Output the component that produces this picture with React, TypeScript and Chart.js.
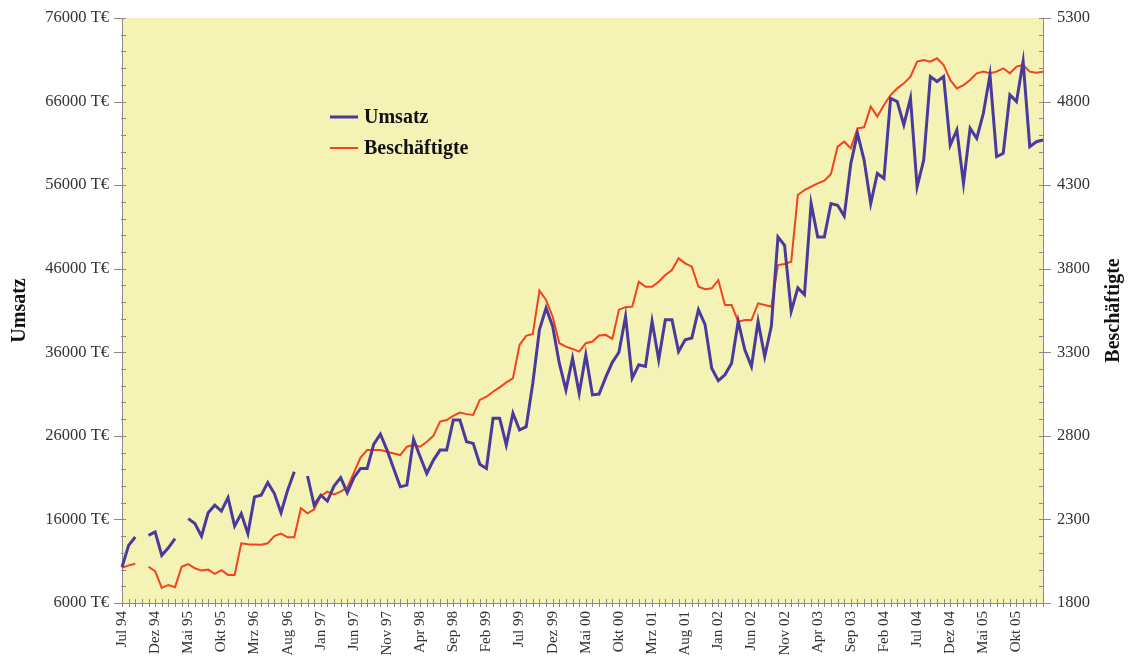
import React, { useEffect, useRef } from 'react';
import { Chart, registerables } from 'chart.js';

Chart.register(...registerables);

// ---------- data ----------
const MONTH_NAMES = ['Jan', 'Feb', 'Mrz', 'Apr', 'Mai', 'Jun', 'Jul', 'Aug', 'Sep', 'Okt', 'Nov', 'Dez'];
const FIRST_YEAR = 1994;
const FIRST_MONTH = 6; // Jul
const N_MONTHS = 140;
const LABEL_EVERY = 5;

const categories: string[] = Array.from({ length: N_MONTHS }, (_, i) => {
  const m = (FIRST_MONTH + i) % 12;
  const y = FIRST_YEAR + Math.floor((FIRST_MONTH + i) / 12);
  return `${MONTH_NAMES[m]} ${String(y % 100).padStart(2, '0')}`;
});

const umsatz: (number | null)[] = [
  10300, 12900, 13900, null, 14100, 14500, 11700, 12600, 13700, null,
  16100, 15500, 14000, 16800, 17700, 17000, 18600, 15200, 16700, 14300,
  18700, 18900, 20400, 19100, 16800, 19500, 21700, null, 21200, 17700,
  18900, 18200, 20000, 21000, 19200, 21000, 22100, 22100, 25000, 26200,
  24300, 22100, 19900, 20100, 25600, 23500, 21500, 23100, 24300, 24300,
  27900, 27900, 25300, 25100, 22600, 22100, 28100, 28100, 24900, 28700,
  26700, 27100, 32300, 38700, 41300, 39100, 34700, 31500, 35300, 31100,
  35700, 30900, 31000, 33000, 34800, 36000, 40300, 32900, 34500, 34300,
  39700, 35100, 39900, 39900, 36100, 37500, 37700, 41100, 39300, 34100,
  32600, 33300, 34700, 39700, 36300, 34300, 39700, 35500, 39100, 49800,
  48800, 40900, 43700, 42900, 53800, 49800, 49800, 53800, 53600, 52300,
  58600, 62200, 59000, 53800, 57400, 56800, 66400, 66000, 63200, 66400,
  55800, 59000, 69000, 68400, 69000, 60800, 62600, 56200, 62800, 61600,
  64600, 69200, 59400, 59800, 66800, 66000, 70800, 60600, 61200, 61400,
];

const beschaeftigte: (number | null)[] = [
  2010, 2025, 2035, null, 2017, 1990, 1890, 1908, 1895, 2017,
  2033, 2008, 1994, 2000, 1975, 1997, 1968, 1968, 2157, 2152,
  2150, 2148, 2157, 2200, 2215, 2193, 2193, 2367, 2337, 2360,
  2440, 2466, 2450, 2466, 2490, 2580, 2670, 2715, 2715, 2715,
  2705, 2695, 2685, 2735, 2745, 2735, 2765, 2800, 2885, 2895,
  2920, 2939, 2930, 2925, 3015, 3034, 3064, 3090, 3120, 3144,
  3344, 3398, 3410, 3669, 3613, 3513, 3354, 3334, 3320, 3304,
  3354, 3364, 3400, 3404, 3380, 3555, 3570, 3573, 3722, 3692,
  3692, 3722, 3762, 3792, 3862, 3832, 3812, 3692, 3677, 3683,
  3732, 3583, 3583, 3483, 3493, 3493, 3593, 3583, 3573, 3822,
  3828, 3842, 4241, 4271, 4291, 4311, 4327, 4367, 4530, 4560,
  4520, 4640, 4646, 4770, 4710, 4780, 4839, 4879, 4909, 4949,
  5039, 5049, 5039, 5059, 5019, 4929, 4879, 4899, 4929, 4969,
  4979, 4969, 4979, 4999, 4969, 5009, 5019, 4979, 4973, 4979,
];

const LEFT_MIN = 6000;
const LEFT_MAX = 76000;
const LEFT_STEP = 10000;
const LEFT_MINOR = 2000;
const RIGHT_MIN = 1800;
const RIGHT_MAX = 5300;
const RIGHT_STEP = 500;
const RIGHT_MINOR = 100;

const LEFT_TITLE = 'Umsatz';
const RIGHT_TITLE = 'Beschäftigte';
const SERIES_LABELS = ['Umsatz', 'Beschäftigte'];

// ---------- styles ----------
const W = 1137;
const H = 667;
const FONT = "'Liberation Serif', 'Times New Roman', serif";
const PLOT_BG = '#F5F2B6';
const AXIS = '#8a8a8a';
const BLUE = '#4A3A9E';
const RED = '#F2431E';
const TEXT = '#333333';

const decorPlugin = {
  id: 'decor',
  beforeDraw(chart: any) {
    const { ctx, chartArea: a } = chart;
    ctx.save();
    ctx.fillStyle = PLOT_BG;
    ctx.fillRect(a.left, a.top, a.right - a.left, a.bottom - a.top);
    ctx.restore();
  },
  afterDraw(chart: any) {
    const { ctx, chartArea: a, scales } = chart;
    const yL = scales.y;
    const yR = scales.y1;
    const x = scales.x;
    ctx.save();
    ctx.strokeStyle = AXIS;
    ctx.lineWidth = 1;
    ctx.beginPath();
    for (let v = LEFT_MIN; v <= LEFT_MAX; v += LEFT_MINOR) {
      const py = Math.round(yL.getPixelForValue(v)) + 0.5;
      const major = (v - LEFT_MIN) % LEFT_STEP === 0;
      ctx.moveTo(a.left - (major ? 8 : 1), py);
      ctx.lineTo(a.left + 4, py);
    }
    for (let v = RIGHT_MIN; v <= RIGHT_MAX; v += RIGHT_MINOR) {
      const py = Math.round(yR.getPixelForValue(v)) + 0.5;
      const major = (v - RIGHT_MIN) % RIGHT_STEP === 0;
      ctx.moveTo(a.right - 4, py);
      ctx.lineTo(a.right + (major ? 8 : 1), py);
    }
    for (let i = 0; i < categories.length; i++) {
      const px = Math.round(x.getPixelForValue(i)) + 0.5;
      ctx.moveTo(px, a.bottom - 4);
      ctx.lineTo(px, a.bottom + 4);
    }
    ctx.stroke();

    ctx.fillStyle = '#111';
    ctx.font = `bold 20px ${FONT}`;
    ctx.textAlign = 'center';
    ctx.textBaseline = 'middle';
    ctx.translate(1114, (a.top + a.bottom) / 2);
    ctx.rotate(-Math.PI / 2);
    ctx.fillText(RIGHT_TITLE, 0, 0);
    ctx.restore();

    ctx.save();
    ctx.font = `bold 20px ${FONT}`;
    ctx.textAlign = 'left';
    ctx.textBaseline = 'middle';
    const lx = 330;
    const ly = [117, 148];
    chart.data.datasets.forEach((ds: any, k: number) => {
      ctx.strokeStyle = ds.borderColor;
      ctx.lineWidth = ds.borderWidth;
      ctx.beginPath();
      ctx.moveTo(lx, ly[k]);
      ctx.lineTo(lx + 28, ly[k]);
      ctx.stroke();
      ctx.fillStyle = '#111';
      ctx.fillText(ds.label, lx + 34, ly[k] + 1);
    });
    ctx.restore();
  },
};

export default function App() {
  const ref = useRef<HTMLCanvasElement | null>(null);

  useEffect(() => {
    if (!ref.current) return;
    const chart = new Chart(ref.current, {
      type: 'line',
      data: {
        labels: categories,
        datasets: [
          {
            label: SERIES_LABELS[0],
            data: umsatz,
            yAxisID: 'y',
            borderColor: BLUE,
            backgroundColor: BLUE,
            borderWidth: 3,
            pointRadius: 0,
            tension: 0,
            spanGaps: false,
          },
          {
            label: SERIES_LABELS[1],
            data: beschaeftigte,
            yAxisID: 'y1',
            borderColor: RED,
            backgroundColor: RED,
            borderWidth: 2,
            pointRadius: 0,
            tension: 0,
            spanGaps: false,
          },
        ],
      },
      options: {
        responsive: false,
        animation: false,
        layout: { padding: { top: 18, left: 0, right: 0, bottom: 0 } },
        plugins: {
          legend: { display: false },
          tooltip: { enabled: false },
        },
        scales: {
          x: {
            type: 'category',
            offset: false,
            grid: { display: false, drawTicks: false },
            border: { display: true, color: AXIS, width: 1 },
            ticks: {
              autoSkip: false,
              minRotation: 90,
              maxRotation: 90,
              padding: 8,
              color: TEXT,
              font: { family: FONT, size: 15 },
              callback: (_v: any, i: number) => (i % LABEL_EVERY === 0 ? categories[i] : ''),
            },
            afterFit: (s: any) => { s.height = 64; },
          },
          y: {
            type: 'linear',
            position: 'left',
            min: LEFT_MIN,
            max: LEFT_MAX,
            grid: { display: false, drawTicks: true, tickLength: 10 },
            border: { display: true, color: AXIS, width: 1 },
            ticks: {
              stepSize: LEFT_STEP,
              padding: 3,
              color: TEXT,
              font: { family: FONT, size: 16.5 },
              callback: (v: any) => `${v} T€`,
            },
            title: {
              display: true,
              text: LEFT_TITLE,
              color: '#111',
              font: { family: FONT, size: 20, weight: 'bold' },
              padding: { top: 8, bottom: 0 },
            },
            afterFit: (s: any) => { s.width = 122; },
          },
          y1: {
            type: 'linear',
            position: 'right',
            min: RIGHT_MIN,
            max: RIGHT_MAX,
            grid: { display: false, drawTicks: true, tickLength: 10, drawOnChartArea: false },
            border: { display: true, color: AXIS, width: 1 },
            ticks: {
              stepSize: RIGHT_STEP,
              padding: 4,
              color: TEXT,
              font: { family: FONT, size: 16.5 },
              callback: (v: any) => String(v),
            },
            afterFit: (s: any) => { s.width = W - 1043; },
          },
        },
      },
      plugins: [decorPlugin],
    } as any);
    return () => chart.destroy();
  }, []);

  return (
    <div style={{ position: 'absolute', left: 0, top: 0, width: W, height: H, background: '#fff' }}>
      <canvas ref={ref} width={W} height={H} style={{ display: 'block' }} />
    </div>
  );
}
